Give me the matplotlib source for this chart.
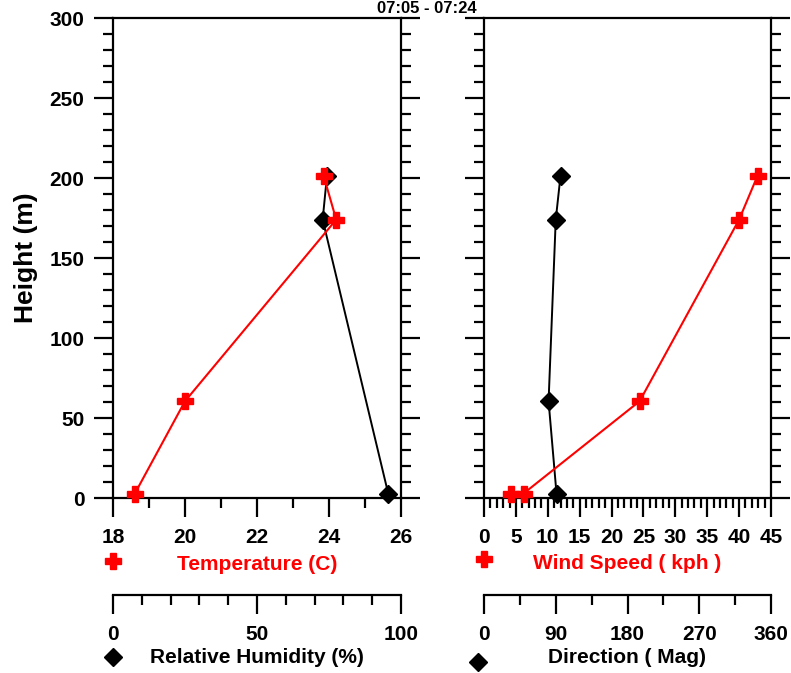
import matplotlib.pyplot as plt
from matplotlib.lines import Line2D
from matplotlib.ticker import MultipleLocator

plt.rcParams['font.family'] = ['Liberation Sans', 'DejaVu Sans']
plt.rcParams['font.weight'] = 'bold'
plt.rcParams['axes.labelweight'] = 'bold'
plt.rcParams['font.size'] = 15

# 数据
temp_height = [2.5, 60.5, 174, 201.5]
temperature = [18.6, 20.0, 24.2, 23.85]
rh_height = [2.5, 174, 201.5]
humidity = [95.6, 72.8, 74.3]
ws_height = [2.8, 2.8, 60.5, 174, 201.5]
wind_speed = [4.3, 6.2, 24.4, 40.0, 42.9]
dir_height = [2.5, 60.5, 174, 201.5]
direction = [91, 81, 90, 96]
title_text = '07:05 - 07:24'

W, H = 791, 673
fig = plt.figure(figsize=(W / 100, H / 100), dpi=100)


def box(l, t, r, b):
    return [l / W, 1 - b / H, (r - l) / W, (b - t) / H]


ax1 = fig.add_axes(box(113, 18, 401, 498))
ax2 = fig.add_axes(box(484, 18, 771, 498))
axh = fig.add_axes(box(113, 594, 401, 595))
axd = fig.add_axes(box(484, 594, 771, 595))

# 主图
for ax in (ax1, ax2):
    for s in ax.spines.values():
        s.set_linewidth(1.6)
    ax.set_ylim(0, 300)
    ax.yaxis.set_major_locator(MultipleLocator(50))
    ax.yaxis.set_minor_locator(MultipleLocator(10))
    ax.tick_params(axis='y', which='both', left=True, right=True, direction='out', width=1.6, pad=7)
    ax.tick_params(axis='x', which='both', bottom=True, top=False, direction='out', width=1.6, pad=8)
    ax.tick_params(which='major', length=13.5)
    ax.tick_params(which='minor', length=7)

ax1.set_xlim(18, 26)
ax1.xaxis.set_major_locator(MultipleLocator(2))
ax1.xaxis.set_minor_locator(MultipleLocator(1))
# 湿度按 0-100 映射到温度轴 18-26
ax1.plot([18 + h * 8 / 100 for h in humidity], rh_height, color='black', lw=1.4,
         marker='D', ms=9, clip_on=False, zorder=3)
ax1.plot(temperature, temp_height, color='red', lw=1.5, marker='P', ms=11, clip_on=False, zorder=4)
ax1.set_ylabel('Height (m)', fontsize=19, labelpad=8)
ax1.set_xlabel('Temperature (C)', color='red', labelpad=6)

ax2.set_xlim(0, 45)
ax2.xaxis.set_major_locator(MultipleLocator(5))
ax2.xaxis.set_minor_locator(MultipleLocator(1))
ax2.tick_params(axis='y', labelleft=False)
# 风向按 0-360 映射到风速轴 0-45
ax2.plot([d * 45 / 360 for d in direction], dir_height, color='black', lw=1.4,
         marker='D', ms=9, clip_on=False, zorder=3)
ax2.plot(wind_speed, ws_height, color='red', lw=1.5, marker='P', ms=11, clip_on=False, zorder=4)
ax2.set_xlabel('Wind Speed ( kph )', color='red', labelpad=5)

# 第二x轴
for ax, lim, major, minor, lab in ((axh, 100, 50, 10, 'Relative Humidity (%)'),
                                   (axd, 360, 90, 45, 'Direction ( Mag)')):
    ax.set_xlim(0, lim)
    ax.set_yticks([])
    ax.patch.set_visible(False)
    for side in ('top', 'left', 'right'):
        ax.spines[side].set_visible(False)
    ax.spines['bottom'].set_linewidth(1.6)
    ax.xaxis.set_major_locator(MultipleLocator(major))
    ax.xaxis.set_minor_locator(MultipleLocator(minor))
    ax.tick_params(axis='x', which='both', direction='out', width=1.6, pad=8)
    ax.tick_params(which='major', length=13.5)
    ax.tick_params(which='minor', length=7.5)
    ax.set_xlabel(lab, labelpad=3)


# 图例符号
def key(marker, color, ms, x, y):
    h = Line2D([], [], ls='none', marker=marker, color=color, ms=ms)
    fig.legend(handles=[h], labels=[''], loc='center', bbox_to_anchor=(x / W, 1 - y / H),
               frameon=False, handlelength=0, handletextpad=0, borderpad=0, borderaxespad=0,
               fontsize=1)


key('P', 'red', 11, 113, 561)
key('P', 'red', 11, 484, 559)
key('D', 'black', 9, 113, 657)
key('D', 'black', 9, 478, 662)

fig.text(427 / W, 1 - 13 / H, title_text, ha='center', va='baseline', fontsize=12)

fig.savefig('out.png', dpi=100)
